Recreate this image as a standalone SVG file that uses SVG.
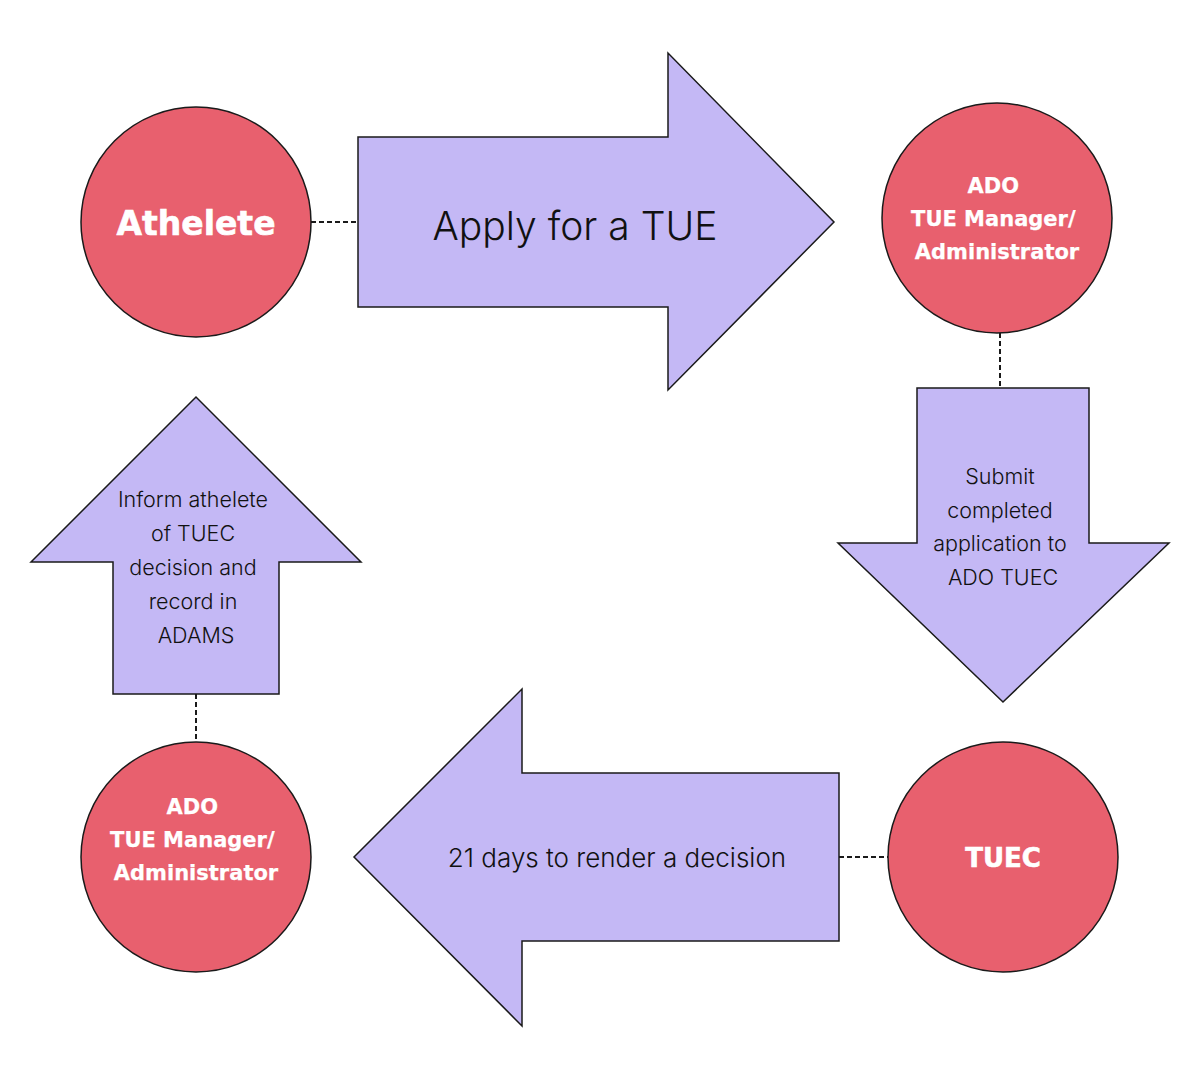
<svg xmlns="http://www.w3.org/2000/svg" width="1184" height="1080" viewBox="0 0 1184 1080">
  <style>
    .role { fill: #E8606E; stroke: #1a1a1a; stroke-width: 1.5; }
    .step { fill: #C4B8F5; stroke: #1a1a1a; stroke-width: 1.5; stroke-linejoin: miter; }
    .link { stroke: #1a1a1a; stroke-width: 2; stroke-dasharray: 5 3; fill: none; }
    .role-label { fill: #ffffff; stroke: #ffffff; stroke-width: 0.6; font-family: "DejaVu Sans", "Liberation Sans", sans-serif; font-weight: bold; text-anchor: middle; }
    .role-label.small { stroke-width: 0.25; }
    .step-label { fill: #111111; font-family: Inter, "Liberation Sans", sans-serif; font-weight: 350; text-anchor: middle; }
  </style>
  <rect width="1184" height="1080" fill="#ffffff"/>

  <g id="connectors">
    <line class="link" x1="311" y1="222" x2="358" y2="222"/>
    <line class="link" x1="1000" y1="333" x2="1000" y2="388"/>
    <line class="link" x1="196" y1="694" x2="196" y2="742"/>
    <line class="link" x1="839" y1="857" x2="888" y2="857"/>
  </g>

  <g id="athlete">
    <circle class="role" cx="196" cy="222" r="115"/>
    <text class="role-label" x="196" y="235" font-size="33">Athelete</text>
  </g>

  <g id="apply-step">
    <polygon class="step" points="358,137 668,137 668,53 834,222 668,390 668,307 358,307"/>
    <text class="step-label" x="575" y="240" font-size="39">Apply for a TUE</text>
  </g>

  <g id="ado-manager-top">
    <circle class="role" cx="997" cy="218" r="115"/>
    <text class="role-label small" font-size="21">
      <tspan x="997" y="193">ADO</tspan>
      <tspan x="997" y="226">TUE Manager/</tspan>
      <tspan x="997" y="259">Administrator</tspan>
    </text>
  </g>

  <g id="submit-step">
    <polygon class="step" points="917,388 1089,388 1089,543 1169,543 1003,702 838,543 917,543"/>
    <text class="step-label" font-size="21.5">
      <tspan x="1003" y="484">Submit</tspan>
      <tspan x="1003" y="518">completed</tspan>
      <tspan x="1003" y="551">application to</tspan>
      <tspan x="1003" y="585">ADO TUEC</tspan>
    </text>
  </g>

  <g id="tuec">
    <circle class="role" cx="1003" cy="857" r="115"/>
    <text class="role-label" x="1003" y="867" font-size="26">TUEC</text>
  </g>

  <g id="decision-step">
    <polygon class="step" points="839,773 522,773 522,689 354,857 522,1026 522,941 839,941"/>
    <text class="step-label" x="617" y="867" font-size="26">21 days to render a decision</text>
  </g>

  <g id="ado-manager-bottom">
    <circle class="role" cx="196" cy="857" r="115"/>
    <text class="role-label small" font-size="21">
      <tspan x="196" y="814">ADO</tspan>
      <tspan x="196" y="847">TUE Manager/</tspan>
      <tspan x="196" y="880">Administrator</tspan>
    </text>
  </g>

  <g id="inform-step">
    <polygon class="step" points="113,694 279,694 279,562 361,562 196,397 31,562 113,562"/>
    <text class="step-label" font-size="21.5">
      <tspan x="196" y="507">Inform athelete</tspan>
      <tspan x="196" y="541">of TUEC</tspan>
      <tspan x="196" y="575">decision and</tspan>
      <tspan x="196" y="609">record in</tspan>
      <tspan x="196" y="643">ADAMS</tspan>
    </text>
  </g>
</svg>
